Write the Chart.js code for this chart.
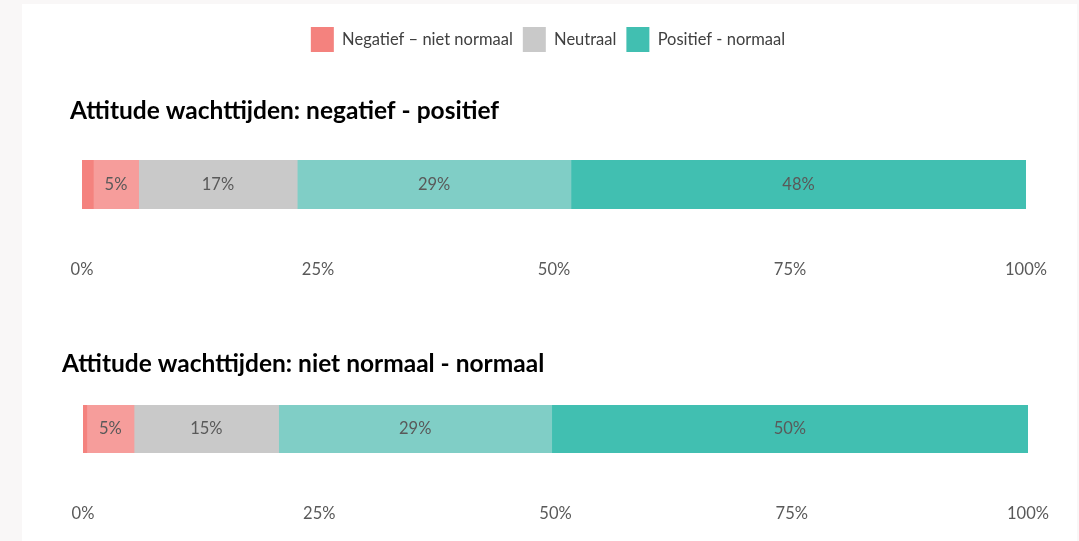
<!DOCTYPE html>
<html>
<head>
<meta charset="utf-8">
<script src="https://cdn.jsdelivr.net/npm/chart.js@4"></script>
<style>
    html, body { margin: 0; padding: 0; background: #f9f7f7; overflow: hidden; }
    body { width: 1079px; height: 541px; position: relative; }
    .panel { position: absolute; left: 22px; top: 4px; width: 1055px; height: 537px; background: #ffffff; }
    canvas { position: absolute; left: 0; }
    #attitudeChart1 { top: 0; }
    #attitudeChart2 { top: 300px; }
</style>
</head>
<body>
<div class="panel"></div>
<canvas id="attitudeChart1" width="1079" height="340"></canvas>
<canvas id="attitudeChart2" width="1079" height="280"></canvas>
<script>
// Data
const titles = ['Attitude wachttijden: negatief - positief', 'Attitude wachttijden: niet normaal - normaal'];
const seriesNames = ['Negatief – niet normaal', 'Eerder negatief', 'Neutraal', 'Eerder positief', 'Positief - normaal'];
const inLegend = [true, false, true, false, true];
const negatiefPositief = [1.2, 4.8, 16.8, 29.0, 48.2];
const nietNormaalNormaal = [0.4, 5.0, 15.3, 28.9, 50.4];
const tickValues = [0, 25, 50, 75, 100];

const colors = ['#f4827e', '#f69d9b', '#c9c9c9', '#80cec6', '#41bfb1'];
const fontFamily = 'Lato, "Open Sans", sans-serif';

// percentages in the bars (the small first segment has no label)
const barLabels = {
    id: 'barLabels',
    afterDatasetsDraw(chart) {
        const ctx = chart.ctx;
        ctx.save();
        ctx.font = '16.5px ' + fontFamily;
        ctx.fillStyle = '#595959';
        ctx.textAlign = 'center';
        ctx.textBaseline = 'middle';
        chart.data.datasets.forEach((ds, i) => {
            const v = ds.data[0];
            if (v < 2) return;
            const bar = chart.getDatasetMeta(i).data[0];
            const x = (bar.x + bar.base) / 2;
            ctx.fillText(Math.round(v) + '%', x, bar.y);
        });
        ctx.restore();
    }
};

function makeChart(canvasId, title, values, opts) {
    const ctx = document.getElementById(canvasId).getContext('2d');
    return new Chart(ctx, {
        type: 'bar',
        data: {
            labels: [title],
            datasets: seriesNames.map((name, i) => ({
                label: name,
                data: [values[i]],
                backgroundColor: colors[i],
                borderWidth: 0,
                barPercentage: 1,
                categoryPercentage: 1
            }))
        },
        options: {
            indexAxis: 'y',
            responsive: false,
            animation: false,
            layout: { padding: opts.padding },
            scales: {
                x: {
                    stacked: true,
                    min: 0,
                    max: 100,
                    afterBuildTicks: axis => { axis.ticks = tickValues.map(v => ({ value: v })); },
                    // the big tick padding should not push the plot area in from the sides
                    afterFit: scale => { scale.paddingLeft = 0; scale.paddingRight = 0; },
                    grid: { display: false, drawTicks: false },
                    border: { display: false },
                    ticks: {
                        padding: 51,
                        color: '#595959',
                        font: { family: fontFamily, size: 16.5 },
                        callback: v => v + '%'
                    }
                },
                y: {
                    stacked: true,
                    grid: { display: false, drawTicks: false },
                    border: { display: false },
                    ticks: { display: false },
                    afterFit: scale => { scale.width = opts.indent; }
                }
            },
            plugins: {
                legend: {
                    display: opts.legend,
                    position: 'top',
                    weight: 3000,
                    labels: {
                        boxWidth: 23,
                        boxHeight: 25,
                        padding: 10,
                        color: '#404040',
                        font: { family: fontFamily, size: 16.5 },
                        filter: item => inLegend[item.datasetIndex]
                    }
                },
                title: {
                    display: true,
                    text: title,
                    align: 'start',
                    color: '#000000',
                    font: { family: fontFamily, size: 24.5, weight: 'bold' },
                    padding: opts.titlePadding
                },
                tooltip: { enabled: false }
            }
        },
        plugins: [barLabels]
    });
}

document.addEventListener('DOMContentLoaded', () => {
    window.attitudeCharts = [
        makeChart('attitudeChart1', titles[0], negatiefPositief, {
            legend: true,
            padding: { left: 70, right: 53, top: 17, bottom: 9.2 },
            indent: 12,
            titlePadding: { top: 34.3, bottom: 34.3 }
        }),
        makeChart('attitudeChart2', titles[1], nietNormaalNormaal, {
            legend: false,
            padding: { left: 62, right: 51, top: 0, bottom: 5.2 },
            indent: 21,
            titlePadding: { top: 49.3, bottom: 26.3 }
        })
    ];
});
</script>
</body>
</html>
